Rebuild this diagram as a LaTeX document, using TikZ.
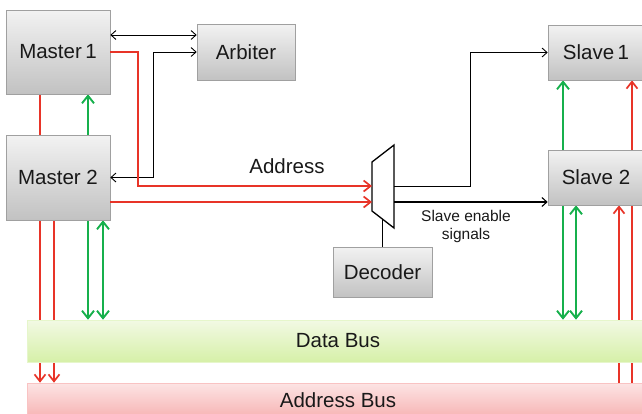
\documentclass[tikz,border=0pt]{standalone}
\usepackage{fontspec}
\setmainfont{Liberation Sans}
\usetikzlibrary{arrows.meta,backgrounds,shadows}

\definecolor{sigred}{RGB}{232,52,40}
\definecolor{siggreen}{RGB}{22,176,76}
\definecolor{boxedge}{RGB}{160,160,160}
\definecolor{txt}{RGB}{25,25,25}
\definecolor{dtop}{RGB}{242,249,228}
\definecolor{dbot}{RGB}{214,240,168}
\definecolor{atop}{RGB}{252,228,228}
\definecolor{abot}{RGB}{247,180,180}

\tikzset{
  unit/.style={draw=boxedge, line width=0.6pt, top color=gray!10, bottom color=gray!48,
    text=txt, font=\fontsize{20.5}{24}\selectfont, inner sep=0pt,
    drop shadow={shadow xshift=1.2pt, shadow yshift=-1.2pt, opacity=0.18}},
  databus/.style={draw=dbot!60, line width=0.6pt, top color=dtop, bottom color=dbot,
    text=txt, font=\fontsize{20.5}{24}\selectfont, inner sep=0pt},
  addrbus/.style={draw=abot!80, line width=0.6pt, top color=atop, bottom color=abot,
    text=txt, font=\fontsize{20.5}{24}\selectfont, inner sep=0pt},
  ctl/.style={draw=black, line width=0.9pt},
  ctlarrow/.style={ctl, -{Straight Barb[length=5pt,width=9pt]}},
  ctlboth/.style={ctl, {Straight Barb[length=5pt,width=9pt]}-{Straight Barb[length=5pt,width=9pt]}},
  addr/.style={draw=sigred, line width=1.7pt, -{Straight Barb[length=7pt,width=11pt,line width=1.7pt]}},
  dat/.style={draw=siggreen, line width=1.9pt, -{Straight Barb[length=7.5pt,width=12pt,line width=1.9pt]}},
  datboth/.style={draw=siggreen, line width=1.9pt,
    {Straight Barb[length=7.5pt,width=12pt,line width=1.9pt]}-{Straight Barb[length=7.5pt,width=12pt,line width=1.9pt]}},
  lbl/.style={text=txt, inner sep=0pt}
}

\begin{document}
\begin{tikzpicture}[x=1pt,y=-1pt]
  \useasboundingbox (0,0) rectangle (642,413);
  \clip (0,0) rectangle (642,413);

  % functional units
  \node[unit, minimum width=104pt, minimum height=84pt] (m1)  at (58,52)    {Master\,1};
  \node[unit, minimum width=104pt, minimum height=85pt] (m2)  at (58,177.5) {Master 2};
  \node[unit, minimum width=98pt,  minimum height=56pt] (arb) at (246,52)   {Arbiter};
  \node[unit, minimum width=96pt,  minimum height=55pt] (s1)  at (596,52.5) {Slave\,1};
  \node[unit, minimum width=96pt,  minimum height=55pt] (s2)  at (596,177.5){Slave 2};
  \node[unit, minimum width=99pt,  minimum height=50pt] (dec) at (382.5,272){Decoder};

  % buses
  \node[databus, minimum width=622pt, minimum height=42pt] (dbus) at (338,341) {Data Bus};
  \node[addrbus, minimum width=622pt, minimum height=34pt] (abus) at (338,400) {Address Bus};

  % address multiplexer
  \coordinate (muxTL) at (372,162);
  \coordinate (muxBL) at (372,211);
  \coordinate (muxTR) at (394,145);
  \coordinate (muxBR) at (394,228);
  \coordinate (in1)  at (372,186);
  \coordinate (in2)  at (372,202);
  \coordinate (out1) at (394,186);
  \coordinate (out2) at (394,202);
  \coordinate (sel)  at (382.5,219);
  \draw[line width=1.3pt, fill=white, line join=miter] (muxTL) -- (muxTR) -- (muxBR) -- (muxBL) -- cycle;
  \draw[line width=1.3pt] (sel) -- (dec.north);

  % arbitration
  \draw[ctlboth] ([yshift=17pt]m1.east) -- ([yshift=17pt]m1.east -| arb.west);
  \draw[ctlboth] (m2.east) -| ([xshift=-43pt]arb.west) -- (arb.west);

  % addresses into the multiplexer
  \draw[addr] (m1.east) -| ([xshift=-234pt]in1) -- (in1);
  \draw[addr] (m2.east |- in2) -- (in2);
  \node[lbl, font=\fontsize{20.5}{24}\selectfont] (addrlbl) at (287,166) {Address};

  % slave enable signals
  \draw[ctlarrow] (out1) -| ([xshift=-77pt]s1.west) -- (s1.west);
  \draw[ctlarrow, line width=1.1pt] (out2) -- (s2.west |- out2);
  \node[lbl, align=center, font=\fontsize{15.5}{18}\selectfont] (enlbl) at (466,226) {Slave enable\\signals};

  % bus connections, drawn behind units and buses
  \begin{pgfonlayer}{background}
    \draw[addr] ([xshift=-18pt]m1.south) -- ([xshift=-18pt]m1.south |- abus.north);
    \draw[addr] ([xshift=-4pt]m2.south) -- ([xshift=-4pt]m2.south |- abus.north);
    \draw[datboth] ([xshift=30pt]m1.south) -- ([xshift=30pt]m1.south |- dbus.north);
    \draw[datboth] ([xshift=45pt]m2.south) -- ([xshift=45pt]m2.south |- dbus.north);
    \draw[datboth] ([xshift=-33pt]s1.south) -- ([xshift=-33pt]s1.south |- dbus.north);
    \draw[datboth] ([xshift=-20pt]s2.south) -- ([xshift=-20pt]s2.south |- dbus.north);
    \draw[addr] ([xshift=23pt]s2.south |- abus.north) -- ([xshift=23pt]s2.south);
    \draw[addr] ([xshift=36pt]s1.south |- abus.north) -- ([xshift=36pt]s1.south);
  \end{pgfonlayer}
\end{tikzpicture}
\end{document}
